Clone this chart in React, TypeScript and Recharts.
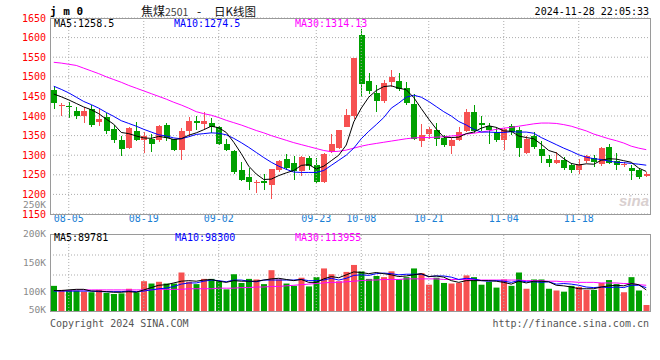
import React from "react";
import {
  ComposedChart,
  Bar,
  Line,
  XAxis,
  YAxis,
  CartesianGrid,
  ReferenceLine,
  Cell,
} from "recharts";

const MONO = "'DejaVu Sans Mono', monospace";
const CJK = "'Noto Sans CJK SC', sans-serif";
const RED = "#f65151";
const GREEN = "#00a000";
const GRID = "#adadad";

const dates = [
  "08-01", "08-02", "08-05", "08-06", "08-07", "08-08", "08-09", "08-12", "08-13", "08-14",
  "08-15", "08-16", "08-19", "08-20", "08-21", "08-22", "08-23", "08-26", "08-27", "08-28",
  "08-29", "08-30", "09-02", "09-03", "09-04", "09-05", "09-06", "09-09", "09-10", "09-11",
  "09-12", "09-13", "09-18", "09-19", "09-20", "09-23", "09-24", "09-25", "09-26", "09-27",
  "09-30", "10-08", "10-09", "10-10", "10-11", "10-14", "10-15", "10-16", "10-17", "10-18",
  "10-21", "10-22", "10-23", "10-24", "10-25", "10-28", "10-29", "10-30", "10-31", "11-01",
  "11-04", "11-05", "11-06", "11-07", "11-08", "11-11", "11-12", "11-13", "11-14", "11-15",
  "11-18", "11-19", "11-20", "11-21", "11-22", "11-25", "11-26", "11-27", "11-28", "11-29",
];

const opens = [
  1466, 1426, 1426, 1413, 1399, 1418, 1385, 1398, 1368, 1339,
  1319, 1362, 1339, 1342, 1338, 1377, 1341, 1312, 1361, 1386,
  1379, 1383, 1372, 1329, 1311, 1262, 1244, 1229, 1233, 1225,
  1263, 1291, 1280, 1259, 1293, 1275, 1231, 1307, 1318, 1373,
  1399, 1606, 1489, 1458, 1437, 1487, 1489, 1471, 1431, 1335,
  1355, 1365, 1344, 1324, 1338, 1361, 1411, 1383, 1375, 1358,
  1339, 1374, 1365, 1305, 1350, 1317, 1291, 1279, 1288, 1274,
  1261, 1284, 1293, 1278, 1321, 1284, 1274, 1267, 1263, 1248,
];
const highs = [
  1477, 1432, 1435, 1422, 1423, 1427, 1417, 1407, 1377, 1350,
  1372, 1385, 1360, 1355, 1377, 1383, 1342, 1369, 1397, 1400,
  1409, 1394, 1375, 1342, 1314, 1282, 1268, 1238, 1253, 1265,
  1287, 1304, 1299, 1299, 1299, 1292, 1306, 1355, 1365, 1418,
  1548, 1621, 1510, 1479, 1493, 1517, 1510, 1487, 1456, 1380,
  1372, 1383, 1352, 1344, 1371, 1419, 1428, 1400, 1383, 1372,
  1370, 1380, 1371, 1348, 1358, 1336, 1301, 1308, 1295, 1281,
  1290, 1301, 1301, 1320, 1329, 1305, 1282, 1276, 1265, 1256,
];
const lows = [
  1419, 1400, 1394, 1392, 1381, 1371, 1375, 1354, 1331, 1297,
  1316, 1336, 1306, 1307, 1333, 1337, 1311, 1287, 1348, 1365,
  1366, 1356, 1327, 1311, 1251, 1234, 1212, 1204, 1212, 1189,
  1256, 1263, 1238, 1248, 1263, 1229, 1229, 1306, 1316, 1372,
  1393, 1449, 1456, 1409, 1434, 1475, 1465, 1428, 1339, 1322,
  1341, 1324, 1320, 1304, 1336, 1360, 1356, 1361, 1328, 1333,
  1312, 1352, 1295, 1304, 1315, 1279, 1271, 1277, 1263, 1255,
  1253, 1280, 1269, 1272, 1278, 1263, 1270, 1238, 1240, 1245,
];
const closes = [
  1432, 1428, 1424, 1400, 1413, 1378, 1392, 1361, 1338, 1317,
  1370, 1339, 1349, 1328, 1375, 1344, 1314, 1362, 1386, 1381,
  1388, 1373, 1328, 1314, 1256, 1238, 1231, 1231, 1228, 1265,
  1284, 1268, 1259, 1295, 1272, 1231, 1304, 1329, 1365, 1403,
  1548, 1481, 1465, 1437, 1485, 1500, 1468, 1432, 1341, 1352,
  1366, 1342, 1327, 1339, 1358, 1411, 1361, 1378, 1365, 1338,
  1366, 1360, 1318, 1342, 1322, 1299, 1280, 1288, 1268, 1261,
  1277, 1297, 1282, 1318, 1280, 1274, 1278, 1259, 1245, 1251,
];
const ma5 = [
  1456, 1449, 1441, 1432, 1423, 1416, 1406, 1392, 1379, 1358,
  1355, 1349, 1344, 1343, 1348, 1345, 1340, 1342, 1351, 1357,
  1365, 1374, 1370, 1358, 1333, 1304, 1272, 1252, 1238, 1239,
  1248, 1255, 1261, 1274, 1276, 1265, 1272, 1286, 1300, 1326,
  1385, 1420, 1448, 1465, 1475, 1477, 1471, 1467, 1447, 1419,
  1392, 1367, 1346, 1345, 1346, 1355, 1359, 1369, 1375, 1371,
  1362, 1361, 1349, 1345, 1342, 1328, 1312, 1306, 1291, 1279,
  1275, 1278, 1277, 1287, 1291, 1290, 1286, 1282, 1267, 1258.5,
];
const ma10 = [
  1476, 1468, 1459, 1448, 1437, 1429, 1420, 1409, 1399, 1388,
  1381, 1374, 1366, 1359, 1352, 1349, 1344, 1342, 1347, 1353,
  1355, 1357, 1356, 1352, 1343, 1332, 1320, 1307, 1294, 1282,
  1272, 1264, 1257, 1256, 1256, 1256, 1261, 1274, 1287, 1300,
  1318, 1342, 1361, 1378, 1396, 1420, 1433, 1448, 1453, 1448,
  1437, 1424, 1411, 1400, 1386, 1377, 1366, 1359, 1359, 1358,
  1358, 1360, 1359, 1359, 1356, 1345, 1336, 1327, 1318, 1310,
  1301, 1295, 1291, 1289, 1285, 1282, 1281, 1279, 1277, 1274.5,
];
const ma30 = [
  1537, 1535, 1532, 1529, 1522, 1515, 1508, 1500, 1493, 1486,
  1478, 1471, 1464, 1457, 1450, 1443, 1435, 1428, 1420, 1411,
  1406, 1402, 1396, 1389, 1383, 1377, 1370, 1363, 1357, 1350,
  1344, 1338, 1332, 1327, 1322, 1317, 1312, 1309, 1310, 1313,
  1318, 1323, 1327, 1330, 1333, 1336, 1339, 1342, 1344, 1345,
  1345, 1346, 1347, 1349, 1351, 1354, 1356, 1359, 1362, 1366,
  1369, 1371, 1374, 1377, 1380, 1382, 1382, 1381, 1378, 1374,
  1368, 1362, 1354, 1348, 1342, 1337, 1331, 1323, 1318, 1314.13,
];

// volume, thousands of lots
const volumes = [
  110, 103, 103, 102, 100, 99, 103, 98, 96, 97,
  105, 99, 118, 114, 117, 114, 114, 133, 117, 113,
  122, 122, 118, 104, 130, 115, 122, 121, 113, 137,
  121, 114, 110, 124, 109, 125, 140, 130, 118, 134,
  146, 135, 122, 127, 125, 135, 121, 125, 140, 132,
  112, 124, 115, 114, 115, 128, 125, 112, 117, 107,
  121, 110, 133, 105, 121, 121, 105, 102, 100, 110,
  108, 103, 103, 115, 120, 113, 99, 125, 102, 77,
];
const vma5 = [
  102, 102, 103, 104, 104, 101, 101, 100, 99, 99,
  100, 99, 103, 107, 111, 112, 115, 118, 119, 118,
  120, 121, 118, 116, 119, 118, 118, 118, 120, 122,
  123, 121, 119, 121, 116, 116, 122, 126, 124, 129,
  134, 133, 131, 133, 131, 129, 126, 127, 129, 131,
  126, 127, 125, 119, 116, 119, 119, 119, 119, 118,
  116, 113, 118, 115, 118, 118, 117, 111, 110, 108,
  105, 105, 105, 108, 110, 111, 110, 114, 112, 103,
];
const vma10 = [
  101, 101, 101, 101, 101, 101, 100, 100, 100, 100,
  101, 100, 101, 103, 105, 106, 109, 113, 115, 115,
  118, 120, 119, 117, 120, 120, 118, 117, 120, 120,
  120, 120, 120, 121, 119, 119, 120, 123, 120, 123,
  128, 129, 128, 131, 132, 131, 129, 130, 130, 130,
  126, 127, 127, 125, 121, 123, 122, 119, 118, 119,
  118, 116, 119, 117, 117, 116, 117, 113, 114, 113,
  111, 108, 107, 108, 107, 108, 107, 111, 111, 107,
];
const vma30 = [
  102, 102, 102, 103, 103, 103, 103, 103, 103, 103,
  103, 103, 103, 103, 104, 104, 104, 104, 105, 105,
  105, 105, 106, 106, 106, 107, 107, 108, 108, 109,
  109, 110, 111, 112, 113, 114, 115, 116, 116, 117,
  118, 119, 120, 120, 121, 121, 121, 122, 122, 122,
  122, 122, 121, 121, 121, 121, 121, 120, 120, 120,
  120, 120, 120, 119, 119, 119, 118, 118, 117, 117,
  116, 116, 116, 115, 115, 115, 114, 114, 112, 111,
];

const dateTicks = ["08-05", "08-19", "09-02", "09-23", "10-08", "10-21", "11-04", "11-18"];
const priceTicks = [1150, 1200, 1250, 1300, 1350, 1400, 1450, 1500, 1550, 1600, 1650];
const volTicks = [50000, 100000, 150000, 200000, 250000];

const rows = dates.map((date, i) => ({
  date,
  open: opens[i],
  high: highs[i],
  low: lows[i],
  close: closes[i],
  range: [lows[i], highs[i]],
  ma5: ma5[i],
  ma10: ma10[i],
  ma30: ma30[i],
  vol: volumes[i] * 1000,
  vma5: vma5[i] * 1000,
  vma10: vma10[i] * 1000,
  vma30: vma30[i] * 1000,
}));

const Candle = (props: any) => {
  const { x, y, width, height, payload } = props;
  const { open, close, high, low } = payload;
  const color = close >= open ? RED : GREEN;
  const h = Math.abs(height);
  const top = Math.min(y, y + height);
  const k = h / (high - low || 1);
  const yOf = (v: number) => top + (high - v) * k;
  const bTop = yOf(Math.max(open, close));
  const bBot = yOf(Math.min(open, close));
  const cx = Math.floor(x + width / 2) + 0.5;
  return (
    <g shapeRendering="crispEdges">
      <line x1={cx} x2={cx} y1={top} y2={top + h} stroke={color} strokeWidth={1} />
      <rect x={Math.round(x)} y={bTop} width={width} height={Math.max(1, bBot - bTop)} fill={color} />
    </g>
  );
};

const VOL_TOP = 44;
const VOL_H = 77;

const VolTick = (props: any) => {
  const { x, y, payload } = props;
  return (
    <text x={x} y={Math.min(y, VOL_TOP + VOL_H - 1)} dy="0.355em" textAnchor="end" fill="#8a8a8a" fontSize={9.5} fontFamily={MONO}>
      {payload.value / 1000}K
    </text>
  );
};

const frame = (top: number, height: number): React.CSSProperties => ({
  position: "absolute",
  left: 50,
  top,
  width: 601,
  height: height + 1,
  boxSizing: "border-box",
  border: "1px solid #9a9a9a",
  pointerEvents: "none",
});

export default function App() {
  return (
    <div style={{ position: "fixed", left: 0, top: 0, width: 660, height: 360, background: "#fff", overflow: "hidden" }}>
      <div style={{ position: "absolute", left: 0, top: 0 }}>
        <ComposedChart width={660} height={232} data={rows} margin={{ top: 18, right: 10, bottom: 0, left: 6 }}>
          <CartesianGrid vertical={false} stroke={GRID} strokeDasharray="1 2" />
          {dateTicks.map((d) => (
            <ReferenceLine key={d} x={d} stroke={GRID} strokeDasharray="1 2" />
          ))}
          <XAxis
            dataKey="date"
            ticks={dateTicks}
            interval={0}
            height={18}
            tickSize={0}
            tickMargin={1}
            axisLine={false}
            tickLine={false}
            tick={{ fill: "#1a80d4", fontSize: 10, fontFamily: MONO }}
          />
          <YAxis
            domain={[1150, 1650]}
            ticks={priceTicks}
            interval={0}
            width={44}
            tickSize={0}
            tickMargin={4}
            axisLine={false}
            tickLine={false}
            tick={{ fill: "#ff0000", fontSize: 10, fontFamily: MONO }}
          />
          <Bar dataKey="range" barSize={6} shape={Candle} isAnimationActive={false} />
          <Line dataKey="ma30" stroke="#ff00ff" strokeWidth={1} dot={false} isAnimationActive={false} />
          <Line dataKey="ma10" stroke="#0000ff" strokeWidth={1} dot={false} isAnimationActive={false} />
          <Line dataKey="ma5" stroke="#000000" strokeWidth={1} dot={false} isAnimationActive={false} />
        </ComposedChart>
      </div>

      <div style={{ position: "absolute", left: 0, top: 190 }}>
        <ComposedChart width={660} height={135} data={rows} margin={{ top: VOL_TOP, right: 10, bottom: 14, left: 6 }}>
          <CartesianGrid vertical={false} horizontalPoints={[VOL_TOP + 21, VOL_TOP + 41, VOL_TOP + 61]} stroke={GRID} strokeDasharray="1 2" />
          {dateTicks.map((d) => (
            <ReferenceLine key={d} x={d} stroke={GRID} strokeDasharray="1 2" />
          ))}
          <XAxis dataKey="date" hide />
          <YAxis
            domain={[66700, 199300]}
            allowDataOverflow
            ticks={volTicks}
            interval={0}
            width={44}
            tickSize={0}
            tickMargin={4}
            axisLine={false}
            tickLine={false}
            tick={VolTick}
          />
          <Bar dataKey="vol" barSize={6} isAnimationActive={false}>
            {rows.map((r, i) => (
              <Cell key={i} fill={r.close >= r.open ? RED : GREEN} />
            ))}
          </Bar>
          <Line dataKey="vma30" stroke="#ff00ff" strokeWidth={1} dot={false} isAnimationActive={false} />
          <Line dataKey="vma10" stroke="#0000ff" strokeWidth={1} dot={false} isAnimationActive={false} />
          <Line dataKey="vma5" stroke="#000000" strokeWidth={1} dot={false} isAnimationActive={false} />
        </ComposedChart>
      </div>

      <div style={frame(18, 196)} />
      <div style={frame(234, 77)} />

      <svg width={660} height={360} style={{ position: "absolute", left: 0, top: 0, pointerEvents: "none" }}>
        <text x={50} y={15} fontSize={11} fontWeight="bold" fontFamily={MONO} fill="#000">j m 0</text>
        <text x={141} y={15.5} fontSize={12} fontFamily={CJK} fill="#111">
          焦煤<tspan fontSize={10.5} fill="#444">2501</tspan>
        </text>
        <text x={197} y={15.5} fontSize={12} fontFamily={CJK} fill="#111">-</text>
        <text x={214} y={15.5} fontSize={11.5} fontFamily={CJK} fill="#111">日K线图</text>
        <text x={649} y={15} textAnchor="end" fontSize={10} fontFamily={MONO} fill="#000">2024-11-28 22:05:33</text>

        <text x={54} y={27} fontSize={10} fontFamily={MONO} fill="#000">MA5:1258.5</text>
        <text x={174} y={27} fontSize={10} fontFamily={MONO} fill="#0000ff">MA10:1274.5</text>
        <text x={295} y={27} fontSize={10} fontFamily={MONO} fill="#ff00ff">MA30:1314.13</text>

        <text x={54} y={241} fontSize={10} fontFamily={MONO} fill="#000">MA5:89781</text>
        <text x={175} y={241} fontSize={10} fontFamily={MONO} fill="#0000ff">MA10:98300</text>
        <text x={295} y={241} fontSize={10} fontFamily={MONO} fill="#ff00ff">MA30:113955</text>

        <text x={619} y={206} fontSize={15} fontStyle="italic" fontWeight="bold" fontFamily="'Liberation Sans', sans-serif" fill="#d9d0d0">sina</text>

        <text x={50} y={327} fontSize={10} fontFamily={MONO} fill="#555">Copyright 2024 SINA.COM</text>
        <text x={649} y={327} textAnchor="end" fontSize={10} fontFamily={MONO} fill="#555">http://finance.sina.com.cn</text>
      </svg>
    </div>
  );
}
